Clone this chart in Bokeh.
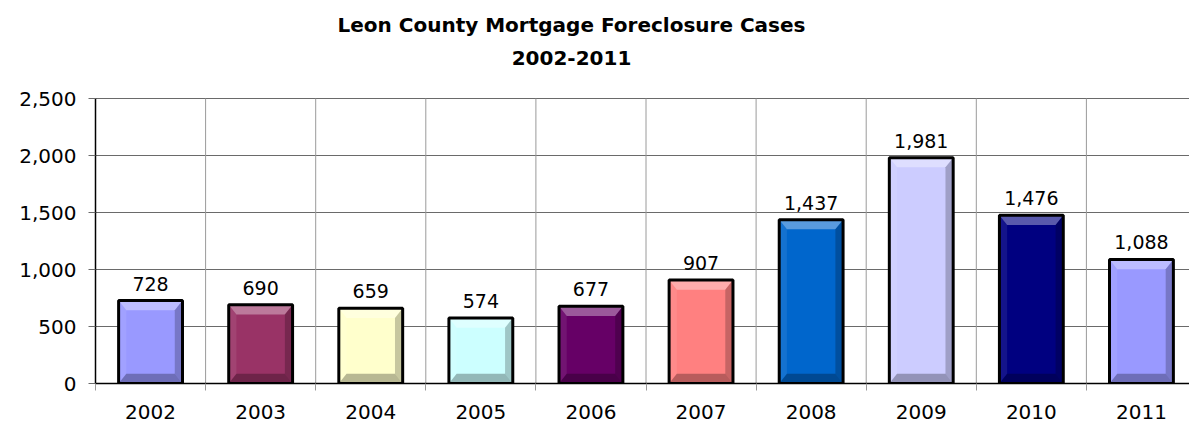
from bokeh.plotting import figure
from bokeh.models import Range1d, FixedTicker, NumeralTickFormatter, Label, ColumnDataSource
from bokeh.core.properties import value
from bokeh.embed import file_html
from bokeh.resources import INLINE

years = ["2002", "2003", "2004", "2005", "2006", "2007", "2008", "2009", "2010", "2011"]
cases = [728, 690, 659, 574, 677, 907, 1437, 1981, 1476, 1088]
colors = ["#9999FF", "#993366", "#FFFFCC", "#CCFFFF", "#660066",
          "#FF8080", "#0066CC", "#CCCCFF", "#000080", "#9999FF"]
y_ticks = [0, 500, 1000, 1500, 2000, 2500]
title_lines = ["Leon County Mortgage Foreclosure Cases", "2002-2011"]

FONT = "DejaVu Sans"
W, H = 1189, 422
ML, MB = 95, 39
Y_MAX = 2500
frame_h = H - MB                 # frame runs to the top edge; plot box drawn up to Y_MAX
px_per_unit = 285 / Y_MAX        # 2,500 spans 285 px
y_top = frame_h / px_per_unit
cat_px = 110.1
frame_w = W - ML
x_end = -0.5 + frame_w / cat_px

p = figure(width=W, height=H, output_backend="svg", toolbar_location=None, title=None,
           x_range=Range1d(-0.5, x_end), y_range=Range1d(0, y_top),
           min_border_left=ML, min_border_right=0, min_border_top=0, min_border_bottom=MB)
p.outline_line_color = None
p.background_fill_color = "white"
p.border_fill_color = "white"

n = len(years)
xs = list(range(n))
bounds = [i - 0.5 for i in range(n + 1)]

# grids
p.xgrid.visible = False
p.segment(x0=bounds, y0=[0] * len(bounds), x1=bounds, y1=[Y_MAX] * len(bounds),
          line_color="#9a9a9a", line_width=1)
p.ygrid.ticker = FixedTicker(ticks=y_ticks)
p.ygrid.grid_line_color = "#6a6a6a"
p.ygrid.grid_line_width = 1

# x axis
xa = p.xaxis[0]
xa.ticker = FixedTicker(ticks=xs, minor_ticks=bounds)
xa.major_label_overrides = {i: y for i, y in enumerate(years)}
xa.major_tick_out = 0
xa.major_tick_in = 0
xa.minor_tick_out = 7
xa.minor_tick_in = 0
xa.minor_tick_line_color = "#9a9a9a"
xa.axis_line_color = "black"
xa.axis_line_width = 1.5
xa.major_label_text_font = FONT
xa.major_label_text_font_size = "20px"
xa.major_label_text_color = "black"
xa.major_label_standoff = 14

# y axis
ya = p.yaxis[0]
ya.ticker = FixedTicker(ticks=y_ticks)
ya.bounds = (0, Y_MAX)
ya.formatter = NumeralTickFormatter(format="0,0")
ya.major_tick_out = 7
ya.major_tick_in = 0
ya.minor_tick_line_color = None
ya.major_tick_line_color = "#6a6a6a"
ya.axis_line_color = "black"
ya.axis_line_width = 1.5
ya.major_label_text_font = FONT
ya.major_label_text_font_size = "20px"
ya.major_label_text_color = "black"
ya.major_label_standoff = 12

# bars with bevel
hw = 0.29
bx = 0.07
by = 85.0
p.vbar(x=xs, top=cases, width=2 * hw, fill_color=colors, line_color=None)

top_x, top_y, bot_x, bot_y, lft_x, lft_y, rgt_x, rgt_y = [], [], [], [], [], [], [], []
for x, t in zip(xs, cases):
    l, r = x - hw, x + hw
    top_x.append([l, r, r - bx, l + bx]); top_y.append([t, t, t - by, t - by])
    bot_x.append([l, r, r - bx, l + bx]); bot_y.append([0, 0, by, by])
    lft_x.append([l, l + bx, l + bx, l]); lft_y.append([0, by, t - by, t])
    rgt_x.append([r, r - bx, r - bx, r]); rgt_y.append([0, by, t - by, t])
p.patches(top_x, top_y, fill_color="white", fill_alpha=0.35, line_color=None)
p.patches(lft_x, lft_y, fill_color="white", fill_alpha=0.08, line_color=None)
p.patches(rgt_x, rgt_y, fill_color="black", fill_alpha=0.22, line_color=None)
p.patches(bot_x, bot_y, fill_color="black", fill_alpha=0.28, line_color=None)
p.vbar(x=xs, top=cases, width=2 * hw, fill_color=None, line_color="black", line_width=3)

# value labels
src = ColumnDataSource(dict(x=xs, y=cases, t=[f"{v:,}" for v in cases]))
p.text(x="x", y="y", text="t", source=src, text_align="center", text_baseline="bottom",
       y_offset=-10, text_font_size="19px", text_color="black",
       text_font=value(FONT))

# title: two lines centred at x≈571px
title_x = -0.5 + (571 - ML) / cat_px
for line, base_px in zip(title_lines, [24, 57]):
    p.add_layout(Label(x=title_x, y=(frame_h - base_px) / px_per_unit, text=line,
                       text_align="center", text_baseline="alphabetic",
                       text_font=FONT, text_font_style="bold", text_font_size="20px",
                       text_color="black"))

open("out.html", "w").write(file_html(p, INLINE))
